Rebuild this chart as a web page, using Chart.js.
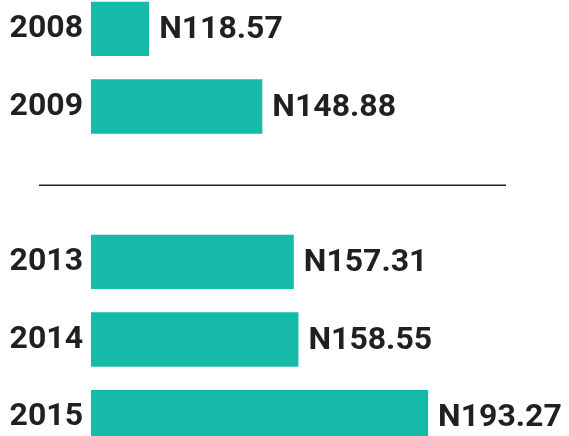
<!DOCTYPE html>
<html>
<head>
<meta charset="utf-8">
<script src="https://cdn.jsdelivr.net/npm/chart.js@4/dist/chart.umd.min.js"></script>
<style>
  html, body { margin: 0; padding: 0; background: #fff; overflow: hidden; }
  #wrap { position: absolute; left: 0; top: -10px; width: 569px; height: 466px; }
</style>
</head>
<body>
<div id="wrap"><canvas id="price" width="569" height="466"></canvas></div>
<script>
// years, with an empty slot where the break line goes
const years = ['2008', '2009', '', '2013', '2014', '2015'];
const prices = [118.57, 148.88, null, 157.31, 158.55, 193.27];
const currency = 'N';

const barColor = '#16baa9';
const textColor = '#231f20';
const font = { family: 'Roboto', weight: 'bold', size: 32 };

// value labels to the right of each bar + the break line
const labelPlugin = {
  id: 'valueLabels',
  afterDatasetsDraw(chart) {
    const ctx = chart.ctx;
    const meta = chart.getDatasetMeta(0);
    ctx.save();
    ctx.fillStyle = textColor;
    ctx.font = 'bold 32px Roboto';
    ctx.textBaseline = 'middle';
    meta.data.forEach((bar, i) => {
      if (prices[i] == null) return;
      ctx.fillText(currency + prices[i].toFixed(2), bar.x + 10, bar.y + 1);
    });
    // separator in the gap between 2009 and 2013
    const gapY = chart.scales.y.getPixelForValue(2);
    ctx.strokeStyle = textColor;
    ctx.lineWidth = 1.5;
    ctx.beginPath();
    ctx.moveTo(39, gapY + 1);
    ctx.lineTo(506, gapY + 1);
    ctx.stroke();
    ctx.restore();
  }
};

var ctx = document.getElementById('price').getContext('2d');
var chart = new Chart(ctx, {
  type: 'bar',
  data: {
    labels: years,
    datasets: [{
      data: prices,
      backgroundColor: barColor,
      borderWidth: 0,
      barPercentage: 0.7,
      categoryPercentage: 1
    }]
  },
  options: {
    indexAxis: 'y',
    responsive: false,
    animation: false,
    devicePixelRatio: 1,
    layout: { padding: 0 },
    plugins: {
      legend: { display: false },
      tooltip: { enabled: false }
    },
    scales: {
      x: {
        display: false,
        min: 103,
        max: 231
      },
      y: {
        grid: { display: false, drawTicks: false },
        border: { display: false },
        ticks: {
          color: textColor,
          font: font,
          padding: 8,
          autoSkip: false
        },
        afterFit(scale) {
          scale.width = 91;
          // no extra room above/below for the tick labels
          scale.paddingTop = 0;
          scale.paddingBottom = 0;
        }
      }
    }
  },
  plugins: [labelPlugin]
});
</script>
</body>
</html>
